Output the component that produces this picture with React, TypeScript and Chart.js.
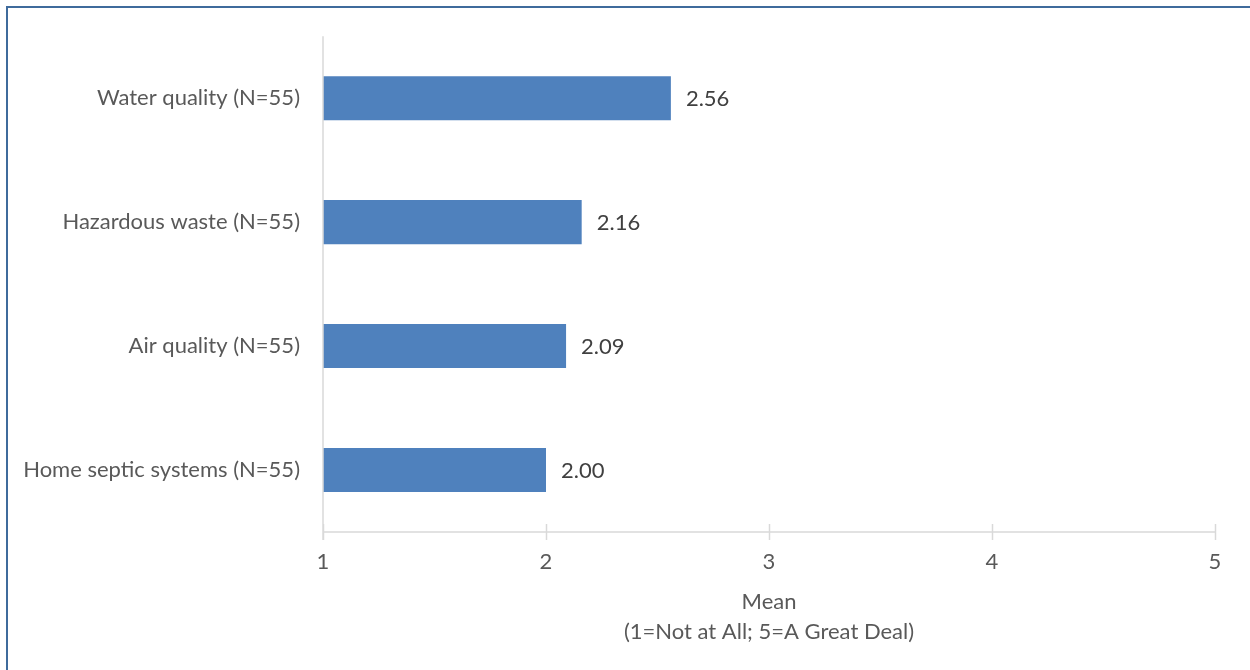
import React, { useEffect, useRef } from "react";
import { Chart, registerables } from "chart.js";

Chart.register(...registerables);

const categories = [
  "Water quality (N=55)",
  "Hazardous waste (N=55)",
  "Air quality (N=55)",
  "Home septic systems (N=55)",
];
const meanValues = [2.56, 2.16, 2.09, 2.0];
const valueLabels = ["2.56", "2.16", "2.09", "2.00"];
const xTickValues = [1, 2, 3, 4, 5];
const axisTitleLines = ["Mean", "(1=Not at All; 5=A Great Deal)"];

const FONT = "Lato, 'Open Sans', sans-serif";
const FONT_SIZE = 22;
const AXIS_COLOR = "#D9D9D9";

const decorPlugin = {
  id: "decor",
  afterDatasetsDraw(chart: any) {
    const { ctx, chartArea, scales } = chart;
    const xs = scales.x;
    ctx.save();
    // axis lines & cross ticks
    ctx.strokeStyle = AXIS_COLOR;
    ctx.lineWidth = 1.5;
    ctx.beginPath();
    ctx.moveTo(chartArea.left, chartArea.top);
    ctx.lineTo(chartArea.left, chartArea.bottom + 8);
    ctx.moveTo(chartArea.left, chartArea.bottom);
    ctx.lineTo(chartArea.right, chartArea.bottom);
    xTickValues.forEach((v) => {
      const px = Math.round(xs.getPixelForValue(v)) + 0.5;
      ctx.moveTo(px, chartArea.bottom - 8);
      ctx.lineTo(px, chartArea.bottom + 8);
    });
    ctx.stroke();
    // value labels
    const meta = chart.getDatasetMeta(0);
    ctx.fillStyle = "#404040";
    ctx.font = `${FONT_SIZE}px ${FONT}`;
    ctx.textAlign = "left";
    ctx.textBaseline = "middle";
    meta.data.forEach((bar: any, i: number) => {
      ctx.fillText(valueLabels[i], bar.x + 15, bar.y + 1);
    });
    ctx.restore();
  },
};

export default function App() {
  const canvasRef = useRef<HTMLCanvasElement | null>(null);

  useEffect(() => {
    if (!canvasRef.current) return;
    const chart = new Chart(canvasRef.current, {
      type: "bar",
      data: {
        labels: categories,
        datasets: [
          {
            data: meanValues.map((v) => [1, v]) as any,
            backgroundColor: "#4F81BD",
            borderWidth: 0,
            barPercentage: 0.355,
            categoryPercentage: 1,
          },
        ],
      },
      options: {
        indexAxis: "y",
        responsive: false,
        animation: false,
        layout: { padding: { left: 0, right: 35, top: 36, bottom: 0 } },
        plugins: {
          legend: { display: false },
          tooltip: { enabled: false },
        },
        scales: {
          x: {
            min: 1,
            max: 5,
            afterFit: (s: any) => {
              s.height = 138;
            },
            afterBuildTicks: (s: any) => {
              s.ticks = xTickValues.map((v) => ({ value: v }));
            },
            border: { display: false },
            grid: { display: false, drawTicks: false },
            ticks: {
              padding: 17,
              color: "#595959",
              font: { family: FONT, size: FONT_SIZE },
            },
            title: {
              display: true,
              text: axisTitleLines,
              color: "#595959",
              font: { family: FONT, size: FONT_SIZE, lineHeight: 30 / FONT_SIZE },
              padding: { top: 0, bottom: 23 },
            },
          },
          y: {
            afterFit: (s: any) => {
              s.width = 323;
            },
            border: { display: false },
            grid: { display: false, drawTicks: false },
            ticks: {
              padding: 23,
              color: "#595959",
              font: { family: FONT, size: FONT_SIZE },
            },
          },
        },
      },
      plugins: [decorPlugin],
    });
    return () => chart.destroy();
  }, []);

  return (
    <div
      style={{
        position: "fixed",
        left: 0,
        top: 0,
        width: 1250,
        height: 670,
        overflow: "hidden",
        background: "#ffffff",
      }}
    >
      <div
        style={{
          position: "absolute",
          left: 6,
          top: 6,
          width: 1300,
          height: 720,
          border: "2px solid #3F6B9C",
          boxSizing: "border-box",
        }}
      />
      <canvas
        ref={canvasRef}
        width={1250}
        height={670}
        style={{ position: "absolute", left: 0, top: 0, width: 1250, height: 670 }}
      />
    </div>
  );
}
